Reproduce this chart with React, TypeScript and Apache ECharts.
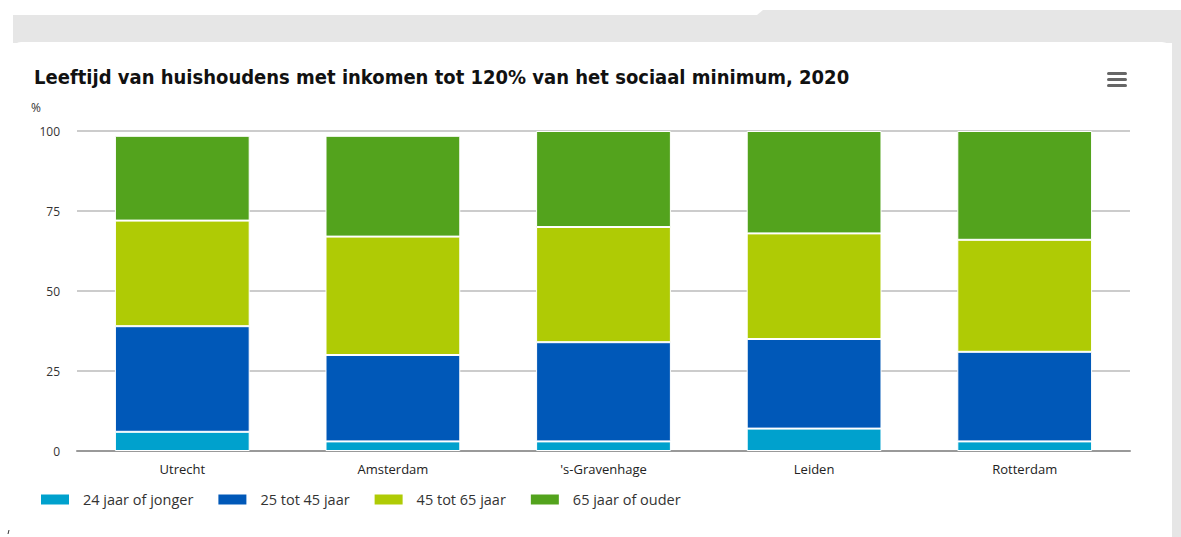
import React, { useEffect, useRef } from "react";
import * as echarts from "echarts";

const categories = ["Utrecht", "Amsterdam", "'s-Gravenhage", "Leiden", "Rotterdam"];
const seriesNames = ["24 jaar of jonger", "25 tot 45 jaar", "45 tot 65 jaar", "65 jaar of ouder"];
const age24 = [6, 3, 3, 7, 3];
const age25_45 = [33, 27, 31, 28, 28];
const age45_65 = [33, 37, 36, 33, 35];
const age65 = [26.5, 31.5, 30, 32, 34];
const yTicks = [0, 25, 50, 75, 100];
const colors = ["#00a1cd", "#0058b8", "#afcb05", "#53a31d"];

const titleText = "Leeftijd van huishoudens met inkomen tot 120% van het sociaal minimum, 2020";

export default function App() {
  const ref = useRef<HTMLDivElement>(null);
  useEffect(() => {
    document.body.style.margin = "0";
    if (!ref.current) return;
    const chart = echarts.init(ref.current, null, { renderer: "svg" });
    const data = [age24, age25_45, age45_65, age65];
    const font = "'Open Sans', sans-serif";
    chart.setOption({
      animation: false,
      backgroundColor: "#ffffff",
      title: {
        text: titleText,
        left: 29,
        top: 62,
        textStyle: {
          fontFamily: "'DejaVu Sans Condensed', sans-serif",
          fontWeight: "bold",
          fontSize: 20,
          color: "#111",
        },
      },
      legend: {
        left: 34,
        top: 487,
        itemWidth: 30,
        itemHeight: 12,
        itemGap: 23,
        icon: "rect",
        data: seriesNames,
        textStyle: { fontFamily: font, fontSize: 14.5, color: "#333", padding: [0, 0, 0, 8] },
      },
      grid: { left: 77, right: 51, top: 131, bottom: 86 },
      xAxis: {
        type: "category",
        data: categories,
        axisLine: { show: true, lineStyle: { color: "#999", width: 2 } },
        axisTick: { show: false },
        axisLabel: { fontFamily: font, fontSize: 13, color: "#222", margin: 11 },
      },
      yAxis: {
        type: "value",
        min: 0,
        max: 100,
        interval: 25,
        axisLine: { show: false },
        axisTick: { show: false },
        axisLabel: {
          fontFamily: font,
          fontSize: 12,
          color: "#333",
          margin: 17,
          formatter: (v: number) => (yTicks.includes(v) ? String(v) : ""),
        },
        splitLine: { lineStyle: { color: "#bbb", width: 1.5 } },
      },
      graphic: [
        { type: "rect", shape: { x: 13, y: 15, width: 1168, height: 28 }, style: { fill: "#e6e6e6" }, z: -10 },
        { type: "rect", shape: { x: 763, y: 10, width: 418, height: 6 }, style: { fill: "#e6e6e6" }, z: -10 },
        { type: "polygon", shape: { points: [[757, 15], [763, 10], [763, 15]] }, style: { fill: "#e6e6e6" }, z: -10 },
        { type: "rect", shape: { x: 1172, y: 15, width: 9, height: 522 }, style: { fill: "#e6e6e6" }, z: -10 },
        { type: "rect", shape: { x: 13, y: 42, width: 1159, height: 500, r: [8, 10, 0, 0] }, style: { fill: "#ffffff" }, z: -9 },
        { type: "text", left: 31, top: 101, style: { text: "%", fontFamily: font, fontSize: 12, fill: "#333" } },
        { type: "rect", shape: { x: 1107, y: 72, width: 20, height: 3, r: 1.5 }, style: { fill: "#666" } },
        { type: "rect", shape: { x: 1107, y: 78, width: 20, height: 3, r: 1.5 }, style: { fill: "#666" } },
        { type: "rect", shape: { x: 1107, y: 84, width: 20, height: 3, r: 1.5 }, style: { fill: "#666" } },
        { type: "line", shape: { x1: 9, y1: 530, x2: 8, y2: 534 }, style: { stroke: "#333", lineWidth: 1 } },
      ],
      series: seriesNames.map((name, i) => ({
        name,
        type: "bar",
        stack: "total",
        barWidth: "64%",
        data: data[i],
        itemStyle: { color: colors[i], borderColor: "#ffffff", borderWidth: 1 },
        emphasis: { disabled: true },
      })),
    });
    return () => chart.dispose();
  }, []);
  return <div ref={ref} style={{ width: 1181, height: 537 }} />;
}
